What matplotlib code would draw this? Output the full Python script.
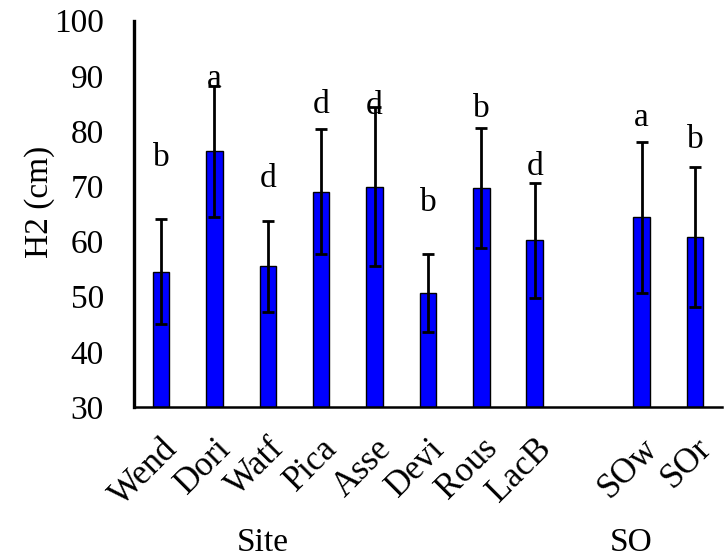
import matplotlib
matplotlib.use("Agg")
import matplotlib.pyplot as plt
import matplotlib.transforms as mtransforms

plt.rcParams['font.family'] = ['Liberation Serif', 'DejaVu Serif']

# Site and SO groups
categories = ["Wend", "Dori", "Watf", "Pica", "Asse", "Devi", "Rous", "LacB", "SOw", "SOr"]
positions = [0, 1, 2, 3, 4, 5, 6, 7, 9, 10]
means = [54.5, 76.3, 55.5, 69.0, 69.9, 50.7, 69.7, 60.2, 64.4, 60.8]
errors = [9.5, 11.8, 8.2, 11.3, 14.4, 7.0, 10.8, 10.4, 13.7, 12.7]
letters = ["b", "a", "d", "d", "d", "b", "b", "d", "a", "b"]
letter_y = [75.2, 89.4, 71.3, 84.8, 84.5, 67.0, 84.0, 73.6, 82.4, 78.5]
group_names = ["Site", "SO"]
group_x = [1.9, 8.8]

FS = 24

fig = plt.figure(figsize=(7.26, 5.57), dpi=100)
ax = fig.add_axes([0.185, 0.269, 0.809, 0.694])

ax.bar(positions, means, width=0.31, color="#0000FF", edgecolor="black",
       linewidth=1.0)
ax.errorbar(positions, means, yerr=errors, fmt="none", ecolor="black",
            elinewidth=2.0, capsize=4.3, capthick=2.0)

for x, y, t in zip(positions, letter_y, letters):
    ax.text(x, y, t, ha="center", va="center", fontsize=FS)

ax.set_ylim(30, 100)
ax.set_xlim(-0.5, 10.5)
ax.set_yticks(range(30, 101, 10))
ax.set_xticks(positions)
ax.set_xticklabels(categories, rotation=45, ha="right", va="top",
                   rotation_mode="anchor", fontsize=25)
offset = mtransforms.ScaledTranslation(0.03, 0.02, fig.dpi_scale_trans)
for lbl in ax.get_xticklabels():
    lbl.set_transform(lbl.get_transform() + offset)

ax.tick_params(axis="y", length=0, pad=22, labelsize=FS)
ax.tick_params(axis="x", length=0, pad=18)

for side in ["top", "right"]:
    ax.spines[side].set_visible(False)
ax.spines["left"].set_linewidth(2.4)
ax.spines["bottom"].set_linewidth(1.8)

ax.set_ylabel("H2 (cm)", fontsize=FS)
ax.yaxis.set_label_coords(-0.135, 0.53)

for name, gx in zip(group_names, group_x):
    ax.text(gx, -0.35, name, transform=ax.get_xaxis_transform(),
            ha="center", va="center", fontsize=FS)

fig.savefig("out.png", dpi=100)
